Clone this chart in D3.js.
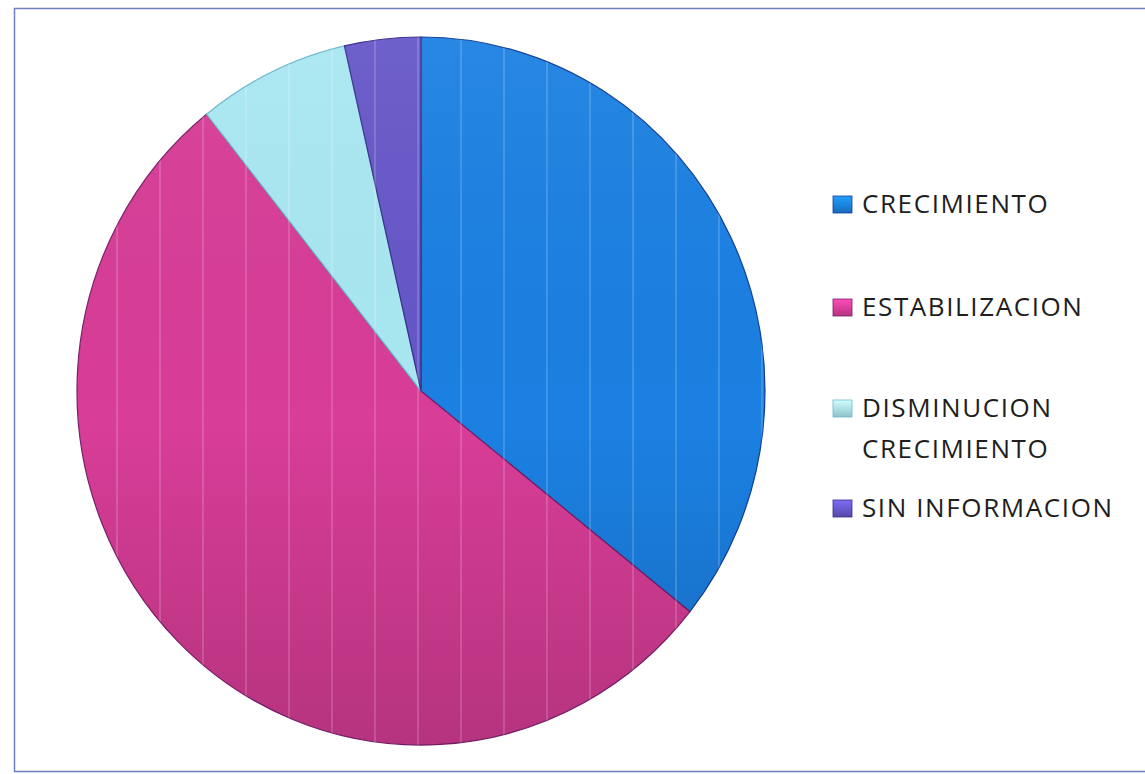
<!DOCTYPE html>
<html>
<head>
<meta charset="utf-8">
<script src="https://cdn.jsdelivr.net/npm/d3@7/dist/d3.min.js"></script>
<style>
  html, body { margin: 0; padding: 0; background: #ffffff; }
  svg { display: block; }
</style>
</head>
<body>
<script>
const categories = ["CRECIMIENTO", "ESTABILIZACION", "DISMINUCION CRECIMIENTO", "SIN INFORMACION"];
const legendLines = [["CRECIMIENTO"], ["ESTABILIZACION"], ["DISMINUCION", "CRECIMIENTO"], ["SIN INFORMACION"]];
const values = [10, 15, 2, 1];
const colors = ["#1b80e2", "#d83d97", "#a9e8f2", "#6657c8"];
const edgeColors = ["#123f9a", "#7a1f6a", "#6fb8cc", "#3a2f8a"];

const W = 1145, H = 774;
const svg = d3.select("body").append("svg").attr("width", W).attr("height", H);

// frame
svg.append("rect").attr("x", 14.5).attr("y", 8.5).attr("width", 1150).attr("height", 763)
  .attr("fill", "#ffffff").attr("stroke", "#6f7fc0").attr("stroke-width", 1.5);

const cx = 421, cy = 391, r = 344, ry = 354;
const g = svg.append("g").attr("transform", `translate(${cx},${cy}) scale(1,${ry / r})`);

const pie = d3.pie().sort(null).value(d => d)(values);
const arc = d3.arc().innerRadius(0).outerRadius(r);

const defs = svg.append("defs");
defs.append("clipPath").attr("id", "pieclip")
  .append("circle").attr("r", r);
const shade = defs.append("linearGradient").attr("id", "shade")
  .attr("x1", 0).attr("y1", 0).attr("x2", 0).attr("y2", 1);
shade.append("stop").attr("offset", 0).attr("stop-color", "#ffffff").attr("stop-opacity", 0.06);
shade.append("stop").attr("offset", 0.55).attr("stop-color", "#000000").attr("stop-opacity", 0);
shade.append("stop").attr("offset", 1).attr("stop-color", "#000000").attr("stop-opacity", 0.16);

g.selectAll("path.slice").data(pie).join("path")
  .attr("class", "slice")
  .attr("d", arc)
  .attr("fill", (d, i) => colors[i])
  .attr("stroke", (d, i) => edgeColors[i])
  .attr("stroke-width", 1.2)
  .attr("stroke-linejoin", "round");

// subtle lighting + faint vertical stripes (texture)
const tex = g.append("g").attr("clip-path", "url(#pieclip)").attr("pointer-events", "none");
tex.append("rect").attr("x", -r).attr("y", -r).attr("width", 2 * r).attr("height", 2 * r)
  .attr("fill", "url(#shade)");
tex.selectAll("line").data(d3.range(-r + 40, r, 43)).join("line")
  .attr("x1", d => d).attr("x2", d => d)
  .attr("y1", -r).attr("y2", r)
  .attr("stroke", "#ffffff").attr("stroke-opacity", 0.16).attr("stroke-width", 2);

// legend
const baselines = [[213], [316], [417, 458], [517]];
const lg = svg.append("g").attr("font-family", "'Open Sans', 'Noto Sans', sans-serif")
  .attr("font-size", 26).attr("letter-spacing", 1.6).attr("fill", "#1e1e1e");

categories.forEach((c, i) => {
  const b = baselines[i][0];
  const grad = defs.append("linearGradient").attr("id", "lg" + i)
    .attr("x1", 0).attr("y1", 0).attr("x2", 0).attr("y2", 1);
  grad.append("stop").attr("offset", 0).attr("stop-color", d3.color(colors[i]).brighter(0.6));
  grad.append("stop").attr("offset", 1).attr("stop-color", d3.color(colors[i]).darker(0.5));
  lg.append("rect").attr("x", 833).attr("y", b - 17).attr("width", 19).attr("height", 17)
    .attr("fill", `url(#lg${i})`).attr("stroke", edgeColors[i]).attr("stroke-width", 0.8);
  legendLines[i].forEach((t, j) => {
    lg.append("text").attr("x", 862).attr("y", baselines[i][j]).text(t);
  });
});
</script>
</body>
</html>
